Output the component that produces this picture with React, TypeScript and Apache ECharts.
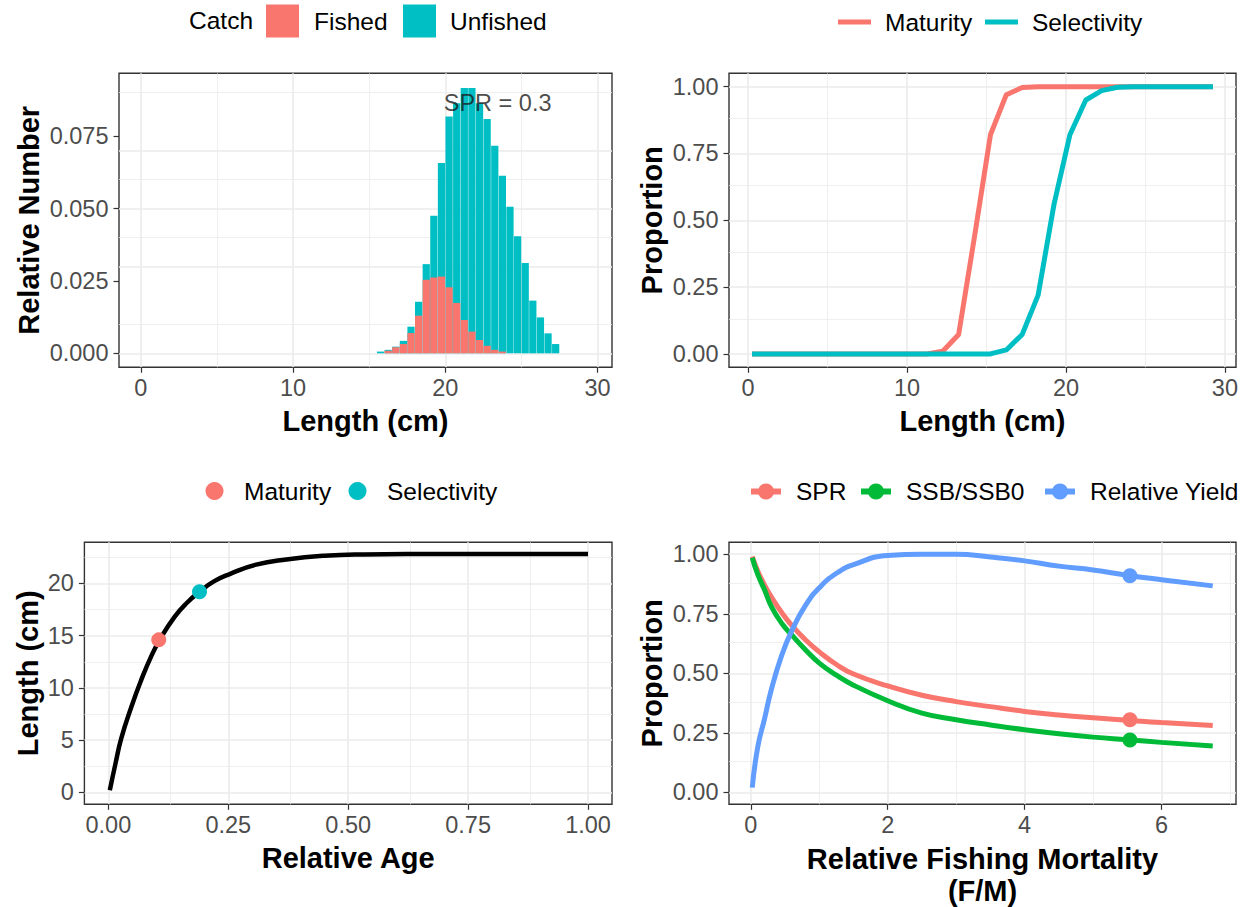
import React, { useEffect, useRef } from 'react';
import * as echarts from 'echarts';

const SALMON = '#F8766D';
const TEAL = '#00BFC4';
const GREEN = '#00BA38';
const BLUE = '#619CFF';
const FONT = '"Liberation Sans", Arial, sans-serif';

// ---- Top-left: length composition ----
const HIST_LENGTH = [15.75, 16.25, 16.75, 17.25, 17.75, 18.25, 18.75, 19.25, 19.75, 20.25, 20.75, 21.25, 21.75, 22.25, 22.75, 23.25, 23.75, 24.25, 24.75, 25.25, 25.75, 26.25, 26.75, 27.25];
const UNFISHED = [0.0006, 0.0012, 0.0023, 0.0043, 0.0092, 0.0178, 0.0308, 0.0475, 0.0657, 0.0818, 0.0864, 0.0916, 0.0916, 0.0864, 0.0809, 0.0717, 0.0613, 0.0506, 0.0404, 0.0312, 0.0182, 0.0124, 0.0069, 0.0032];
const FISHED = [0, 0.0009, 0.0021, 0.0032, 0.007, 0.013, 0.0254, 0.0262, 0.0265, 0.0228, 0.0174, 0.0115, 0.0075, 0.0046, 0.0026, 0.0012, 0.0006, 0, 0, 0, 0, 0, 0, 0];
const SPR_TEXT = 'SPR = 0.3';
const SPR_TEXT_POS = [23.44, 0.0864];

// ---- Top-right: maturity & selectivity at length ----
const CURVE_LENGTH = [0.25, 1.25, 2.25, 3.25, 4.25, 5.25, 6.25, 7.25, 8.25, 9.25, 10.25, 11.25, 12.25, 13.25, 14.25, 15.25, 16.25, 17.25, 18.25, 19.25, 20.25, 21.25, 22.25, 23.25, 24.25, 25.25, 26.25, 27.25, 28.25, 29.25];
const MATURITY = [0, 0, 0, 0, 0, 0, 0, 0, 0, 0, 0, 0, 0.01, 0.073, 0.44, 0.82, 0.97, 0.997, 1, 1, 1, 1, 1, 1, 1, 1, 1, 1, 1, 1];
const SELECTIVITY = [0, 0, 0, 0, 0, 0, 0, 0, 0, 0, 0, 0, 0, 0, 0, 0, 0.015, 0.073, 0.22, 0.56, 0.82, 0.95, 0.985, 0.998, 1, 1, 1, 1, 1, 1];

// ---- Bottom-left: growth curve ----
const REL_AGE = [0.003, 0.015, 0.027, 0.048, 0.068, 0.089, 0.107, 0.138, 0.165, 0.19, 0.22, 0.253, 0.308, 0.371, 0.45, 0.533, 0.65, 0.8, 1.0];
const AGE_LENGTH = [0.2, 2.8, 5.2, 8.2, 10.7, 13.0, 14.6, 16.8, 18.2, 19.2, 20.2, 20.9, 21.8, 22.3, 22.65, 22.78, 22.82, 22.83, 22.83];
const MAT_POINT = [0.105, 14.6];
const SEL_POINT = [0.19, 19.2];

// ---- Bottom-right: per-recruit curves ----
const REL_F = [0.02, 0.1, 0.2, 0.3, 0.45, 0.6, 0.8, 1.0, 1.25, 1.5, 2.0, 2.5, 3.0, 3.5, 4.0, 4.5, 5.0, 5.5, 6.0, 6.75];
const SPR_CURVE = [0.99, 0.93, 0.87, 0.82, 0.755, 0.7, 0.64, 0.59, 0.537, 0.497, 0.447, 0.408, 0.381, 0.36, 0.34, 0.325, 0.313, 0.303, 0.293, 0.281];
const SSB_CURVE = [0.985, 0.915, 0.85, 0.78, 0.71, 0.66, 0.598, 0.543, 0.492, 0.45, 0.385, 0.333, 0.305, 0.283, 0.263, 0.246, 0.232, 0.221, 0.21, 0.195];
const YIELD_CURVE = [0.02, 0.19, 0.31, 0.433, 0.575, 0.68, 0.786, 0.859, 0.92, 0.956, 0.995, 1.0, 1.0, 0.988, 0.972, 0.95, 0.934, 0.912, 0.893, 0.867];
const REF_F = 5.54;
const SPR_REF = 0.305;
const SSB_REF = 0.22;
const YIELD_REF = 0.91;

// ---- Ticks ----
const LEN_TICKS = [0, 10, 20, 30];
const LEN_MINOR = [5, 15, 25];
const NUM_TICKS = [0, 0.025, 0.05, 0.075];
const NUM_MINOR = [0.0125, 0.0375, 0.0625, 0.0875];
const PROP_TICKS = [0, 0.25, 0.5, 0.75, 1];
const PROP_MINOR = [0.125, 0.375, 0.625, 0.875];
const AGE_TICKS = [0, 0.25, 0.5, 0.75, 1];
const AGE_MINOR = [0.125, 0.375, 0.625, 0.875];
const GROWTH_TICKS = [0, 5, 10, 15, 20];
const GROWTH_MINOR = [2.5, 7.5, 12.5, 17.5, 22.5];
const F_TICKS = [0, 2, 4, 6];
const F_MINOR = [1, 3, 5, 7];

function axis(o: any) {
  return {
    type: 'value',
    gridIndex: o.grid,
    min: o.min,
    max: o.max,
    name: o.name,
    nameLocation: 'middle',
    nameGap: o.nameGap,
    nameTextStyle: {
      fontFamily: FONT,
      fontSize: 29,
      fontWeight: 'bold',
      color: '#000',
      lineHeight: o.lineHeight || 30,
    },
    axisLine: { show: false, onZero: false },
    axisTick: {
      show: true,
      customValues: o.ticks,
      length: 5.5,
      lineStyle: { color: '#333333', width: 1.2 },
    },
    axisLabel: {
      show: true,
      customValues: o.ticks,
      formatter: (v: number) => o.fmt(v),
      margin: o.margin,
      fontFamily: FONT,
      fontSize: 23.5,
      color: '#4D4D4D',
    },
    splitLine: { show: false },
    minorTick: { show: false },
    minorSplitLine: { show: false },
  };
}

const MAJOR = { color: '#EBEBEB', width: 1.6, type: 'solid' };
const MINOR = { color: '#EBEBEB', width: 0.8, type: 'solid' };

function gridLines(idx: number, xMajor: number[], xMinor: number[], yMajor: number[], yMinor: number[]) {
  const data = [
    ...xMinor.map((v) => ({ xAxis: v, lineStyle: MINOR })),
    ...yMinor.map((v) => ({ yAxis: v, lineStyle: MINOR })),
    ...xMajor.map((v) => ({ xAxis: v, lineStyle: MAJOR })),
    ...yMajor.map((v) => ({ yAxis: v, lineStyle: MAJOR })),
  ];
  return {
    type: 'line',
    xAxisIndex: idx,
    yAxisIndex: idx,
    data: [],
    silent: true,
    z: 0,
    markLine: {
      z: 0,
      silent: true,
      symbol: ['none', 'none'],
      label: { show: false },
      emphasis: { disabled: true },
      animation: false,
      data,
    },
  };
}

function legendItem(o: any) {
  return {
    left: o.left,
    top: o.top,
    padding: 0,
    itemWidth: o.w,
    itemHeight: o.h,
    itemGap: 0,
    selectedMode: false,
    data: [o.icon ? { name: o.name, icon: o.icon } : { name: o.name }],
    itemStyle: { borderWidth: 0 },
    lineStyle: { width: 6 },
    textStyle: {
      fontFamily: FONT,
      fontSize: 24.5,
      color: '#000',
      lineHeight: 28,
      padding: [0, 0, 0, o.pad],
    },
  };
}

const fmt0 = (v: number) => String(v);
const fmt2 = (v: number) => v.toFixed(2);
const fmt3 = (v: number) => v.toFixed(3);

export default function App() {
  const ref = useRef<HTMLDivElement>(null);

  useEffect(() => {
    document.body.style.margin = '0';
    if (!ref.current) return;
    const chart = echarts.init(ref.current, undefined, { renderer: 'svg' });

    const grids = [
      { left: 119, top: 73.3, width: 493, height: 294 },
      { left: 729, top: 73.3, width: 507, height: 294 },
      { left: 84.4, top: 542.3, width: 527.6, height: 262 },
      { left: 729, top: 542.3, width: 507, height: 262 },
    ].map((g) => ({
      ...g,
      show: true,
      borderColor: '#333333',
      borderWidth: 1.4,
      backgroundColor: 'transparent',
      containLabel: false,
      outerBoundsMode: 'none',
    }));

    const option: any = {
      animation: false,
      backgroundColor: '#FFFFFF',
      textStyle: { fontFamily: FONT },
      grid: grids,
      xAxis: [
        axis({ grid: 0, min: -1.43, max: 30.95, ticks: LEN_TICKS, fmt: fmt0, name: 'Length (cm)', nameGap: 39, margin: 9 }),
        axis({ grid: 1, min: -1.2, max: 30.7, ticks: LEN_TICKS, fmt: fmt0, name: 'Length (cm)', nameGap: 39, margin: 9 }),
        axis({ grid: 2, min: -0.05, max: 1.05, ticks: AGE_TICKS, fmt: fmt2, name: 'Relative Age', nameGap: 39, margin: 9 }),
        axis({ grid: 3, min: -0.32, max: 7.09, ticks: F_TICKS, fmt: fmt0, name: 'Relative Fishing Mortality\n(F/M)', nameGap: 39, margin: 9, lineHeight: 32 }),
      ],
      yAxis: [
        axis({ grid: 0, min: -0.00483, max: 0.0967, ticks: NUM_TICKS, fmt: fmt3, name: 'Relative Number', nameGap: 75, margin: 10.5 }),
        axis({ grid: 1, min: -0.05, max: 1.05, ticks: PROP_TICKS, fmt: fmt2, name: 'Proportion', nameGap: 62, margin: 10.5 }),
        axis({ grid: 2, min: -1.14, max: 23.94, ticks: GROWTH_TICKS, fmt: fmt0, name: 'Length (cm)', nameGap: 41, margin: 10.5 }),
        axis({ grid: 3, min: -0.05, max: 1.05, ticks: PROP_TICKS, fmt: fmt2, name: 'Proportion', nameGap: 62, margin: 10.5 }),
      ],
      legend: [
        legendItem({ name: 'Fished', icon: 'rect', left: 266, top: 4.5, w: 33, h: 33, pad: 10 }),
        legendItem({ name: 'Unfished', icon: 'rect', left: 403, top: 4.5, w: 33, h: 33, pad: 9 }),
        legendItem({ name: 'Maturity', icon: 'rect', left: 838, top: 8, w: 33, h: 5, pad: 9 }),
        legendItem({ name: 'Selectivity', icon: 'rect', left: 985, top: 8, w: 33, h: 5, pad: 9 }),
        legendItem({ name: 'Maturity', icon: 'circle', left: 205.5, top: 477, w: 33, h: 18, pad: 8 }),
        legendItem({ name: 'Selectivity', icon: 'circle', left: 348.5, top: 477, w: 33, h: 18, pad: 8 }),
        legendItem({ name: 'SPR', left: 748, top: 477.5, w: 30, h: 20, pad: 10 }),
        legendItem({ name: 'SSB/SSB0', left: 858, top: 477.5, w: 30, h: 20, pad: 10 }),
        legendItem({ name: 'Relative Yield', left: 1042, top: 477.5, w: 30, h: 20, pad: 10 }),
      ],
      graphic: [
        {
          type: 'text',
          left: 189,
          top: 8,
          style: { text: 'Catch', fontFamily: FONT, fontSize: 24.5, fill: '#000' },
        },
      ],
      series: [
        gridLines(0, LEN_TICKS, LEN_MINOR, NUM_TICKS, NUM_MINOR),
        gridLines(1, LEN_TICKS, LEN_MINOR, PROP_TICKS, PROP_MINOR),
        gridLines(2, AGE_TICKS, AGE_MINOR, GROWTH_TICKS, GROWTH_MINOR),
        gridLines(3, F_TICKS, F_MINOR, PROP_TICKS, PROP_MINOR),
        // top-left
        {
          type: 'bar',
          name: 'Unfished',
          xAxisIndex: 0,
          yAxisIndex: 0,
          data: HIST_LENGTH.map((x, i) => [x, UNFISHED[i]]),
          barWidth: '95%',
          barGap: '-100%',
          color: TEAL,
          itemStyle: { color: TEAL },
          z: 2,
        },
        {
          type: 'bar',
          name: 'Fished',
          xAxisIndex: 0,
          yAxisIndex: 0,
          data: HIST_LENGTH.map((x, i) => [x, FISHED[i]]),
          barWidth: '95%',
          barGap: '-100%',
          color: SALMON,
          itemStyle: { color: SALMON },
          z: 3,
        },
        {
          type: 'scatter',
          name: 'sprLabel',
          xAxisIndex: 0,
          yAxisIndex: 0,
          data: [SPR_TEXT_POS],
          symbolSize: 0.1,
          itemStyle: { color: 'rgba(0,0,0,0)' },
          silent: true,
          z: 5,
          label: {
            show: true,
            position: 'inside',
            formatter: SPR_TEXT,
            fontFamily: FONT,
            fontSize: 23.5,
            color: '#1A1A1A',
          },
        },
        // top-right
        {
          type: 'line',
          name: 'Maturity',
          xAxisIndex: 1,
          yAxisIndex: 1,
          data: CURVE_LENGTH.map((x, i) => [x, MATURITY[i]]),
          symbol: 'none',
          color: SALMON,
          itemStyle: { color: SALMON },
          lineStyle: { color: SALMON, width: 5, join: 'round' },
          z: 2,
        },
        {
          type: 'line',
          name: 'Selectivity',
          xAxisIndex: 1,
          yAxisIndex: 1,
          data: CURVE_LENGTH.map((x, i) => [x, SELECTIVITY[i]]),
          symbol: 'none',
          color: TEAL,
          itemStyle: { color: TEAL },
          lineStyle: { color: TEAL, width: 5, join: 'round' },
          z: 3,
        },
        // bottom-left
        {
          type: 'line',
          name: 'growth',
          xAxisIndex: 2,
          yAxisIndex: 2,
          data: REL_AGE.map((x, i) => [x, AGE_LENGTH[i]]),
          symbol: 'none',
          smooth: 0.5,
          lineStyle: { color: '#000000', width: 4.5 },
          z: 2,
        },
        {
          type: 'scatter',
          name: 'matDot',
          xAxisIndex: 2,
          yAxisIndex: 2,
          data: [MAT_POINT],
          symbol: 'circle',
          symbolSize: 15,
          itemStyle: { color: SALMON, opacity: 1 },
          z: 3,
        },
        {
          type: 'scatter',
          name: 'selDot',
          xAxisIndex: 2,
          yAxisIndex: 2,
          data: [SEL_POINT],
          symbol: 'circle',
          symbolSize: 15,
          itemStyle: { color: TEAL, opacity: 1 },
          z: 3,
        },
        // bottom-right
        {
          type: 'line',
          name: 'SPR',
          xAxisIndex: 3,
          yAxisIndex: 3,
          data: REL_F.map((x, i) => [x, SPR_CURVE[i]]),
          symbol: 'circle',
          showSymbol: false,
          smooth: 0.5,
          color: SALMON,
          itemStyle: { color: SALMON },
          lineStyle: { color: SALMON, width: 5 },
          z: 2,
        },
        {
          type: 'line',
          name: 'SSB/SSB0',
          xAxisIndex: 3,
          yAxisIndex: 3,
          data: REL_F.map((x, i) => [x, SSB_CURVE[i]]),
          symbol: 'circle',
          showSymbol: false,
          smooth: 0.5,
          color: GREEN,
          itemStyle: { color: GREEN },
          lineStyle: { color: GREEN, width: 5 },
          z: 3,
        },
        {
          type: 'line',
          name: 'Relative Yield',
          xAxisIndex: 3,
          yAxisIndex: 3,
          data: REL_F.map((x, i) => [x, YIELD_CURVE[i]]),
          symbol: 'circle',
          showSymbol: false,
          smooth: 0.5,
          color: BLUE,
          itemStyle: { color: BLUE },
          lineStyle: { color: BLUE, width: 5 },
          z: 4,
        },
        {
          type: 'scatter',
          name: 'refDots',
          xAxisIndex: 3,
          yAxisIndex: 3,
          data: [
            { value: [REF_F, SPR_REF], itemStyle: { color: SALMON } },
            { value: [REF_F, SSB_REF], itemStyle: { color: GREEN } },
            { value: [REF_F, YIELD_REF], itemStyle: { color: BLUE } },
          ],
          symbol: 'circle',
          symbolSize: 15,
          itemStyle: { opacity: 1 },
          z: 5,
        },
      ],
    };

    chart.setOption(option);
    return () => chart.dispose();
  }, []);

  return <div ref={ref} style={{ width: 1245, height: 907 }} />;
}
